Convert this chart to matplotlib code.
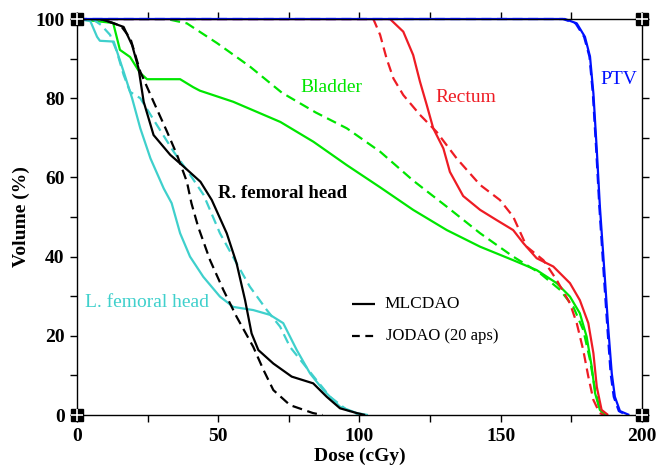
import matplotlib
matplotlib.use("Agg")
from matplotlib import pyplot as plt
from matplotlib.ticker import MultipleLocator

# Dose-volume histograms: dose (cGy) vs volume (%)
# solid = MLCDAO, dashed = JODAO (20 aps)

# PTV
ptv_x = [0, 172.7, 176.9, 179.8, 181.6, 182.8, 184, 185.1, 186.9, 188.1, 189.3, 190.4, 192.2, 195.5]
ptv_y = [100, 100, 98.9, 95.5, 90.5, 81.2, 66.9, 52.6, 34.1, 21.5, 10.5, 4.6, 1.0, 0]
ptv_d_x = [0, 172.0, 176.5, 179.5, 181.4, 182.6, 183.8, 184.9, 186.6, 187.8, 188.9, 190.0, 191.8, 194.5]
ptv_d_y = [100, 100, 98.9, 95.5, 90.5, 81.2, 66.9, 52.6, 34.1, 21.5, 10.5, 4.6, 1.0, 0]

# Rectum
rect_x = [0, 110.8, 115.5, 119, 121.4, 123.8, 126.1, 129.7, 132, 136.7, 142.7, 148.6, 154.4,
          158, 162.7, 168.6, 174.5, 178, 181, 182.8, 184, 185.7, 188]
rect_y = [100, 100, 96.8, 90.9, 84.2, 78.3, 72.4, 67.3, 61.4, 55.3, 51.8, 49.2, 46.7,
          43.4, 39.6, 37.5, 33.3, 29, 23.2, 15.6, 7.1, 1.3, 0]
rect_d_x = [0, 104.9, 107.3, 109.6, 112, 115.5, 121.4, 127.3, 134.4, 142.7, 149.7, 154.4,
            159.2, 165.1, 169.8, 174.5, 176.9, 179.2, 181, 182.8, 185, 186.5]
rect_d_y = [100, 100, 96, 90, 85, 80.8, 75.8, 71.5, 64.8, 58.1, 54.3, 50.1,
            42.5, 39.1, 34.1, 28.2, 23.2, 16.4, 9.7, 3.8, 0.5, 0]

# Bladder
blad_x = [0, 12.8, 15.2, 18.8, 22.3, 24.8, 36.5, 41.1, 43.5, 55.3, 72, 83.7, 95.5, 107.3,
          119, 130.9, 142.7, 154.4, 162.7, 169.8, 174.5, 178, 180.4, 182.2, 183.4, 185.1, 187]
blad_y = [100, 99, 92.2, 90.4, 86.4, 84.8, 84.8, 82.8, 81.9, 79.1, 74, 69, 63.1, 57.5,
          51.8, 46.7, 42.5, 39.1, 36.6, 33.3, 29.9, 25.7, 19.8, 12.2, 5.5, 1.3, 0]
blad_d_x = [0, 31.8, 38.9, 49.6, 61.2, 72.5, 84.5, 95.5, 107.3, 119, 130.9, 142.7, 154.4,
            163.9, 171, 175.7, 179.2, 181.6, 183.4, 185.1, 187]
blad_d_y = [100, 100, 98.9, 93.9, 88, 81.4, 76.4, 72.4, 66.5, 59.2, 52.6, 45.9, 40,
            35.8, 31.6, 27.3, 21.5, 13.9, 6.3, 1.3, 0]

# R. femoral head
rfem_x = [0, 8, 10.6, 16.5, 19.5, 21.8, 23.6, 27.1, 33, 37.8, 43.7, 47.7, 53, 56.5, 59.5,
          61.8, 64.2, 69.5, 76, 83.6, 88.4, 93.1, 99, 102]
rfem_y = [100, 100, 99.5, 98, 93.4, 87.5, 79.1, 70.7, 65.7, 62.7, 58.9, 54.3, 45.9, 38.3, 29,
          20.6, 16.4, 13, 9.7, 8, 4.6, 1.7, 0.5, 0]
rfem_d_x = [0, 8, 10.6, 15.5, 18.9, 22.4, 27.1, 31.9, 35.4, 38.9, 40.5, 42.9, 47.1, 51.8,
            56.5, 62.4, 66, 69.5, 75.4, 83.5, 87]
rfem_d_y = [100, 100, 99.5, 98.3, 95.1, 86.7, 79.1, 71.5, 65.7, 58.9, 53.5, 47.5, 39.1, 31.6,
            24.8, 17.2, 11.4, 6.3, 2.5, 0.5, 0]

# L. femoral head
lfem_x = [0, 4.7, 7.1, 8.1, 13, 16.5, 19.5, 22.4, 26, 30.7, 33.5, 36.5, 40, 44.7, 50.6,
          55.3, 62.4, 68.3, 73, 77.8, 82.5, 87.2, 93.1, 99, 103]
lfem_y = [100, 99.5, 95.5, 94.5, 94.3, 86.7, 80, 72.4, 64.8, 57.2, 53.5, 45.9, 40, 34.9, 29.9,
          27.3, 26.5, 25.3, 23.2, 16.4, 10.5, 6.3, 2.1, 0.5, 0]
lfem_d_x = [0, 5.5, 8.5, 11.7, 14, 16.5, 18.8, 22.4, 28.3, 34.2, 40.1, 44.8, 50.6, 56.5,
            61.2, 67.2, 71.9, 75.4, 80.1, 84.8, 89.6, 95.5, 100]
lfem_d_y = [100, 100, 98.5, 96, 92, 85.9, 81.6, 80, 73.2, 66.5, 60.6, 55.6, 45.9, 38.3,
            32.4, 26.5, 22.3, 17.2, 13, 8.8, 4.6, 1.3, 0]

verde = '#00e600'
rojo = '#ee1c24'
azul = '#0010ff'
cian = '#3fd0cc'

plt.rcParams['font.family'] = ['Liberation Serif', 'DejaVu Serif']
plt.rcParams['lines.solid_capstyle'] = 'butt'

fig = plt.figure(figsize=(6.65, 4.68), dpi=100)
ax = fig.add_axes([0.1158, 0.1132, 0.8496, 0.8462])

lw = 1.6
dash = (4.5, 2.5)

ax.plot(blad_d_x, blad_d_y, color=verde, lw=lw, dashes=dash)
ax.plot(blad_x, blad_y, color=verde, lw=lw)
ax.plot(rect_d_x, rect_d_y, color=rojo, lw=lw, dashes=dash)
ax.plot(rect_x, rect_y, color=rojo, lw=lw)
ax.plot(lfem_d_x, lfem_d_y, color=cian, lw=lw, dashes=dash)
ax.plot(lfem_x, lfem_y, color=cian, lw=lw)
ax.plot(rfem_d_x, rfem_d_y, color='k', lw=lw, dashes=dash)
ax.plot(rfem_x, rfem_y, color='k', lw=lw)
ax.plot(ptv_d_x, ptv_d_y, color=azul, lw=lw, dashes=dash, clip_on=False)
ax.plot(ptv_x, ptv_y, color=azul, lw=lw, clip_on=False)

# etiquetas de cada estructura
ax.text(79, 82.7, 'Bladder', color=verde, fontsize=14, va='center')
ax.text(126.7, 80.2, 'Rectum', color=rojo, fontsize=14, va='center')
ax.text(185.1, 84.8, 'PTV', color=azul, fontsize=14, va='center')
ax.text(50, 56, 'R. femoral head', color='k', fontsize=13.5, fontweight='bold', va='center')
ax.text(2.8, 28.3, 'L. femoral head', color=cian, fontsize=14, va='center')

# leyenda hecha a mano
ax.plot([97.2, 105.5], [28, 28], color='k', lw=lw)
ax.plot([97.2, 105.5], [20, 20], color='k', lw=lw, dashes=(3.5, 2.5))
ax.text(109, 28, 'MLCDAO', fontsize=12.5, va='center')
ax.text(109.5, 20, 'JODAO (20 aps)', fontsize=12, va='center')

ax.set_xlim(0, 200)
ax.set_ylim(0, 100)
ax.xaxis.set_major_locator(MultipleLocator(50))
ax.xaxis.set_minor_locator(MultipleLocator(25))
ax.yaxis.set_major_locator(MultipleLocator(20))
ax.yaxis.set_minor_locator(MultipleLocator(10))
ax.tick_params(which='both', direction='out', length=5, width=1, top=True, right=True,
               labelsize=14, pad=4)
for t in ax.get_xticklabels() + ax.get_yticklabels():
    t.set_fontweight('bold')
for s in ax.spines.values():
    s.set_linewidth(1)

ax.set_xlabel('Dose (cGy)', fontsize=14, fontweight='bold', labelpad=2)
ax.set_ylabel('Volume (%)', fontsize=14, fontweight='bold', labelpad=4)

# marcas cuadradas en las esquinas
for cx in (0, 200):
    for cy in (0, 100):
        ax.plot(cx, cy, marker='s', ms=8, color='k', clip_on=False, zorder=5)
        ax.plot(cx, cy, marker='+', ms=8, mew=1.2, color='w', clip_on=False, zorder=6)

plt.savefig('out.png', dpi=100)
